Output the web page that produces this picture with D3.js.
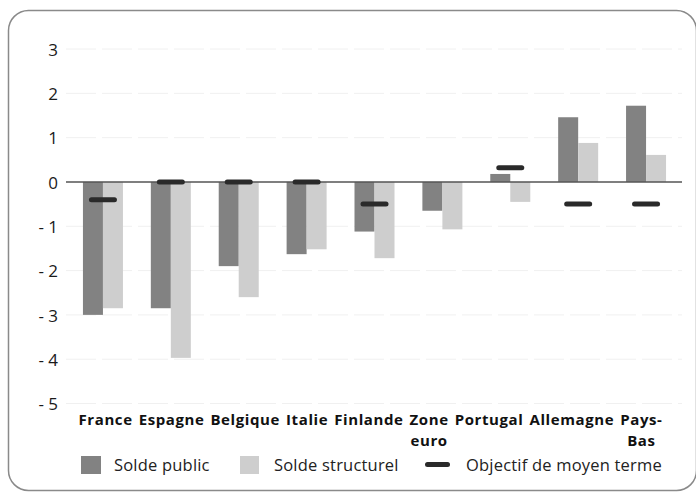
<!DOCTYPE html>
<html>
<head>
<meta charset="utf-8">
<script src="https://cdn.jsdelivr.net/npm/d3@7"></script>
<style>
  html, body { margin: 0; padding: 0; background: #fff; }
  svg { display: block; }
</style>
</head>
<body>
<svg id="chart" width="696" height="497"></svg>
<script>
// Soldes budgétaires et objectif de moyen terme, en % du PIB
const categories = [["France"], ["Espagne"], ["Belgique"], ["Italie"], ["Finlande"],
  ["Zone", "euro"], ["Portugal"], ["Allemagne"], ["Pays-", "Bas"]];
const soldePublic      = [-3.0, -2.85, -1.9, -1.63, -1.12, -0.65, 0.18, 1.46, 1.72];
const soldeStructurel  = [-2.85, -3.97, -2.6, -1.52, -1.72, -1.07, -0.45, 0.88, 0.61];
const objectifMT       = [-0.4, 0, 0, 0, -0.5, null, 0.32, -0.5, -0.5];
const yTicks = [3, 2, 1, 0, -1, -2, -3, -4, -5];
const legendLabels = ["Solde public", "Solde structurel", "Objectif de moyen terme"];

const svg = d3.select("#chart");
const DARK = "#828282", LIGHT = "#cecece", MARK = "#2a2a2a";

// outer rounded frame
svg.append("rect")
  .attr("x", 8.5).attr("y", 10.5).attr("width", 688).attr("height", 480)
  .attr("rx", 20).attr("ry", 20)
  .attr("fill", "none").attr("stroke", "#8a8a8a").attr("stroke-width", 1.5);

const x = d3.scaleBand().domain(d3.range(categories.length)).range([69, 680]);
const y = d3.scaleLinear().domain([-5, 3]).range([403.5, 49]);
const barW = 20;

// faint horizontal gridlines
svg.append("g").selectAll("line").data(yTicks.filter(t => t !== 0)).join("line")
  .attr("x1", 66).attr("x2", 682)
  .attr("y1", d => y(d)).attr("y2", d => y(d))
  .attr("stroke", "#f0f0f0").attr("stroke-width", 1)
  .attr("stroke-dasharray", "30,6");

// y axis labels
const yAxis = d3.axisLeft(y).tickValues(yTicks).tickSize(0).tickPadding(0)
  .tickFormat(d => d < 0 ? "- " + Math.abs(d) : String(d));
const ga = svg.append("g").attr("transform", "translate(58,0)").call(yAxis);
ga.select(".domain").remove();
ga.selectAll("text")
  .attr("font-family", "'Open Sans', sans-serif")
  .attr("font-size", 17).attr("fill", "#1a1a1a").attr("dy", "0.36em");

// bars
const center = i => x(i) + x.bandwidth() / 2;
svg.append("g").selectAll("rect").data(soldePublic).join("rect")
  .attr("x", (d, i) => center(i) - barW)
  .attr("y", d => y(Math.max(0, d)))
  .attr("width", barW)
  .attr("height", d => Math.abs(y(d) - y(0)))
  .attr("fill", DARK);
svg.append("g").selectAll("rect").data(soldeStructurel).join("rect")
  .attr("x", (d, i) => center(i))
  .attr("y", d => y(Math.max(0, d)))
  .attr("width", barW)
  .attr("height", d => Math.abs(y(d) - y(0)))
  .attr("fill", LIGHT);

// zero line
svg.append("line")
  .attr("x1", 66).attr("x2", 682).attr("y1", y(0)).attr("y2", y(0))
  .attr("stroke", "#555").attr("stroke-width", 1.5);

// medium-term objective markers
svg.append("g").selectAll("rect")
  .data(objectifMT.map((v, i) => ({ v, i })).filter(d => d.v !== null)).join("rect")
  .attr("x", d => center(d.i) - 14)
  .attr("y", d => y(d.v) - 2.5)
  .attr("width", 28).attr("height", 5).attr("rx", 2.5)
  .attr("fill", MARK);

// category labels, flowed as one centred line under the plot
const cat = svg.append("g").selectAll("text").data(categories).join("text")
  .attr("text-anchor", "middle")
  .attr("font-family", "'Open Sans', sans-serif")
  .attr("font-weight", "bold").attr("font-size", 15)
  .attr("letter-spacing", 0.6).attr("fill", "#111");
cat.selectAll("tspan").data(d => d).join("tspan")
  .attr("x", 0).attr("dy", (d, j) => j === 0 ? 0 : 20.5)
  .text(d => d);
const widths = [];
cat.each(function () {
  let w = 0;
  d3.select(this).selectAll("tspan").each(function () { w = Math.max(w, this.getComputedTextLength()); });
  widths.push(w);
});
const gap = 6;
const total = d3.sum(widths) + gap * (widths.length - 1);
const [r0, r1] = x.range();
let cursor = (r0 + r1) / 2 - 4 - total / 2;
const pos = widths.map(w => { const c = cursor + w / 2; cursor += w + gap; return c; });
cat.attr("transform", (d, i) => `translate(${pos[i]},425)`);

// legend
const lg = svg.append("g").attr("font-family", "'Open Sans', sans-serif")
  .attr("font-size", 16.5).attr("letter-spacing", 0.2).attr("fill", "#222");
lg.append("rect").attr("x", 81).attr("y", 456).attr("width", 20).attr("height", 18).attr("fill", DARK);
lg.append("text").attr("x", 114).attr("y", 471).text(legendLabels[0]);
lg.append("rect").attr("x", 240).attr("y", 456).attr("width", 19).attr("height", 18).attr("fill", LIGHT);
lg.append("text").attr("x", 274).attr("y", 471).text(legendLabels[1]);
lg.append("rect").attr("x", 425).attr("y", 462).attr("width", 25).attr("height", 5).attr("rx", 2.5).attr("fill", MARK);
lg.append("text").attr("x", 466).attr("y", 471).text(legendLabels[2]);
</script>
</body>
</html>
